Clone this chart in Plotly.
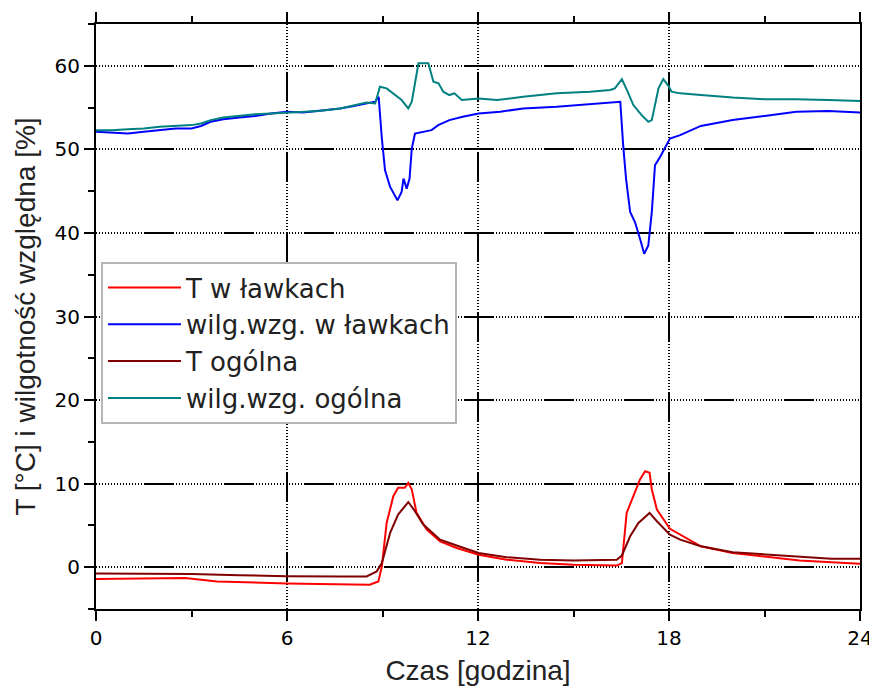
import plotly.graph_objects as go

# ---- data ----
hours_rh_general = [0, 0.5, 1.0, 1.5, 2.0, 2.5, 3.0, 3.3, 3.6, 4.0, 4.5, 5.0, 5.5, 6.0, 6.5, 7.0, 7.67, 8.1, 8.5,
                    8.77, 8.92, 9.13, 9.45, 9.6, 9.81, 9.92, 10.13, 10.44, 10.6, 10.76, 10.91, 11.1, 11.26, 11.49,
                    12.02, 12.6, 13.42, 14.47, 15.52, 16.15, 16.3, 16.52, 16.7, 16.88, 17.14, 17.35, 17.46, 17.67,
                    17.82, 17.98, 18.08, 18.35, 19.0, 20.0, 21.0, 22.0, 23.0, 24.0]
rh_general = [52.3, 52.3, 52.4, 52.5, 52.7, 52.8, 52.9, 53.1, 53.5, 53.8, 54.0, 54.2, 54.3, 54.4, 54.5, 54.6, 54.9,
              55.3, 55.6, 55.5, 57.5, 57.3, 56.3, 55.9, 54.9, 55.7, 60.3, 60.3, 58.1, 57.9, 56.9, 56.5, 56.7, 55.9,
              56.1, 55.9, 56.3, 56.7, 56.9, 57.1, 57.3, 58.4, 56.9, 55.3, 54.1, 53.3, 53.5, 57.3,
              58.4, 57.6, 56.9, 56.7, 56.5, 56.2, 56.0, 56.0, 55.9, 55.8]

hours_rh_benches = [0, 0.5, 1.0, 1.5, 2.0, 2.5, 3.0, 3.3, 3.6, 4.0, 4.5, 5.0, 5.5, 6.0, 6.5, 7.0, 7.67, 8.1, 8.5,
                    8.77, 8.88, 8.98, 9.08, 9.24, 9.47, 9.6, 9.66, 9.76, 9.85, 9.92, 10.02, 10.28, 10.54, 10.75,
                    11.1, 11.52, 12.02, 12.7, 13.42, 14.47, 15.52, 16.36, 16.47, 16.56, 16.65, 16.78, 16.93, 17.09,
                    17.22, 17.35, 17.46, 17.56, 17.72, 18.03, 18.35, 19.0, 20.0, 21.0, 22.0, 23.0, 24.0]
rh_benches = [52.1, 52.0, 51.9, 52.1, 52.3, 52.5, 52.5, 52.8, 53.3, 53.6, 53.8, 54.0, 54.3, 54.5, 54.4, 54.6, 54.9,
              55.2, 55.5, 55.7, 56.3, 51.3, 47.5, 45.5, 43.9, 44.9, 46.5, 45.3, 46.5, 50.1, 51.9, 52.1, 52.3, 52.9,
              53.5, 53.9, 54.3, 54.5, 54.9, 55.1, 55.4, 55.6, 55.7, 50.5, 46.5, 42.5, 41.3, 39.3,
              37.5, 38.5, 42.5, 48.1, 49.1, 51.3, 51.7, 52.8, 53.5, 54.0, 54.5, 54.6, 54.4]

hours_t_benches = [0, 1, 2, 2.8, 3.8, 5, 6, 7, 7.67, 8.6, 8.87, 8.98, 9.13, 9.34, 9.49, 9.7, 9.81, 9.92, 10.07,
                   10.39, 10.81, 11.33, 12.02, 12.9, 13.95, 15.0, 16.36, 16.52, 16.67, 16.88, 17.09, 17.25, 17.39,
                   17.46, 17.62, 18.03, 18.35, 19.0, 20.0, 21.1, 22.1, 23.1, 24.0]
t_benches = [-1.4, -1.35, -1.3, -1.3, -1.7, -1.85, -1.95, -2.0, -2.07, -2.1, -1.7, 0.1, 5.3, 8.5, 9.5, 9.5, 10.1,
             9.3, 6.5, 4.5, 3.1, 2.3, 1.5, 0.9, 0.5, 0.3, 0.2, 0.5, 6.5, 8.5, 10.5, 11.5, 11.3,
             9.3, 6.9, 4.6, 3.9, 2.5, 1.7, 1.2, 0.8, 0.6, 0.4]

hours_t_general = [0, 1.5, 3, 4.5, 6, 7.67, 8.5, 8.82, 8.98, 9.24, 9.49, 9.81, 10.02, 10.28, 10.81, 11.33, 12.02,
                   12.9, 13.95, 15.0, 16.36, 16.52, 16.78, 17.04, 17.39, 17.62, 18.03, 18.35, 19.0, 20.0, 21.1,
                   22.1, 23.1, 24.0]
t_general = [-0.75, -0.75, -0.8, -0.95, -1.08, -1.1, -1.1, -0.5, 0.5, 4.1, 6.3, 7.8, 6.7, 5.1, 3.3, 2.6, 1.7,
             1.2, 0.9, 0.8, 0.9, 1.4, 3.7, 5.3, 6.5, 5.5, 3.9, 3.3, 2.5, 1.8, 1.5,
             1.2, 1.0, 1.0]

series_names = ["T w ławkach", "wilg.wzg. w ławkach", "T ogólna", "wilg.wzg. ogólna"]
series_colors = ["#ff0000", "#0000ff", "#800000", "#008080"]
x_tick_vals = [0, 6, 12, 18, 24]
x_title = "Czas [godzina]"
y_title = "T [°C] i wilgotność względna [%]"

# ---- figure ----
fig = go.Figure()
series = [(hours_t_benches, t_benches), (hours_rh_benches, rh_benches),
          (hours_t_general, t_general), (hours_rh_general, rh_general)]
for (xs, ys), name, color in zip(series, series_names, series_colors):
    fig.add_trace(go.Scatter(x=xs, y=ys, mode="lines", name=name,
                             line=dict(color=color, width=2)))

grid_dash = ",".join(["1px,2px"] * 16) + ",30px,2px"

axis_common = dict(
    showline=True, linecolor="black", linewidth=2,
    ticks="outside", ticklen=10, tickwidth=2, tickcolor="black",
    showgrid=True, gridcolor="black", gridwidth=1.5, griddash=grid_dash,
    zeroline=False, automargin=False,
    tickfont=dict(family="DejaVu Sans", size=20, color="black"),
)

fig.update_xaxes(
    range=[0, 24], tickvals=x_tick_vals, mirror="ticks",
    minor=dict(dtick=3, tick0=0, ticks="outside", ticklen=6, tickwidth=2, tickcolor="black", showgrid=False),
    title=dict(text=x_title, font=dict(family="Liberation Sans", size=28, color="#222"), standoff=30),
    **axis_common,
)
fig.update_yaxes(
    range=[-5, 65], dtick=10, tick0=0, mirror=True,
    minor=dict(dtick=5, tick0=0, ticks="outside", ticklen=6, tickwidth=2, tickcolor="black", showgrid=False),
    title=dict(text=y_title, font=dict(family="Liberation Sans", size=28, color="#222"), standoff=11),
    **axis_common,
)

# the page places the figure 8px from the top-left corner of the window
fig.update_layout(
    width=869, height=678,
    margin=dict(l=88, r=17, t=16, b=77),
    plot_bgcolor="white", paper_bgcolor="white",
    showlegend=True,
    legend=dict(
        x=0.0065, y=0.593, xanchor="left", yanchor="top",
        bgcolor="white", bordercolor="#b5b5b5", borderwidth=2,
        font=dict(family="DejaVu Sans", size=26, color="#222"),
        itemwidth=73, tracegroupgap=0,
    ),
)

fig.write_html("out.html")
